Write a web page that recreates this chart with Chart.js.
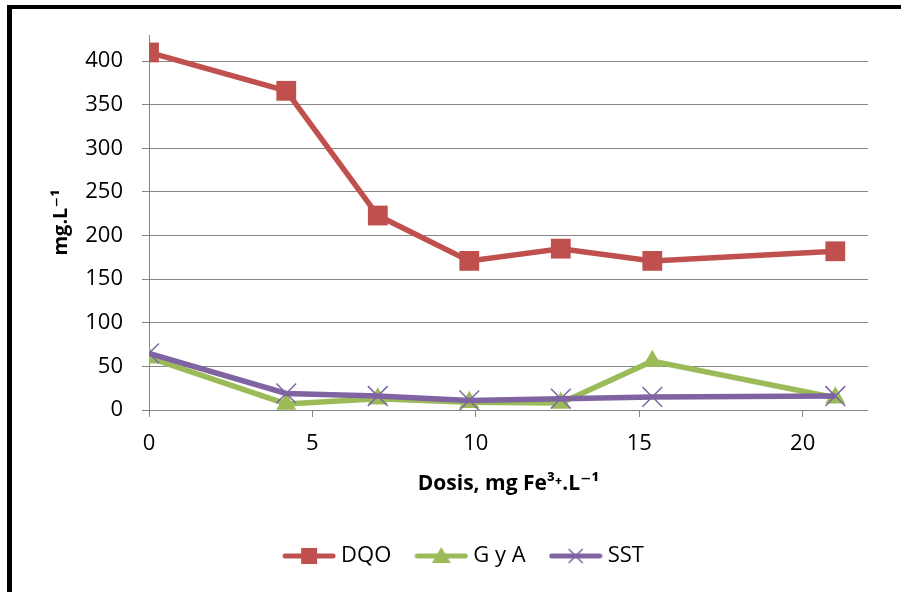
<!DOCTYPE html>
<html><head><meta charset="utf-8">
<script src="https://cdn.jsdelivr.net/npm/chart.js@4"></script>
<style>
html,body{margin:0;padding:0;background:#fff;width:901px;height:592px;overflow:hidden;position:relative}
#frame{position:absolute;left:7px;top:5px;width:1000px;height:1000px;border-top:4px solid #000;border-left:5px solid #000;box-sizing:border-box}
#c{position:absolute;left:0;top:0}
</style></head><body>
<div id="frame"></div>
<canvas id="c" width="901" height="592"></canvas>
<script>
// Data
const doses = [0, 4.2, 7.0, 9.8, 12.6, 15.4, 21.0];
const dqo = [410, 366, 223, 171, 185, 171, 182];
const gya = [60, 7, 13, 9, 8, 56, 14];
const sst = [65, 19, 16, 11, 13, 15, 16];
const seriesNames = ['DQO', 'G y A', 'SST'];
const yTitle = 'mg.L\u207B\u00B9';
const xTitle = 'Dosis, mg Fe\u00B3\u207A.L\u207B\u00B9';

const RED = '#C0504D', GREEN = '#9BBB59', PURPLE = '#8064A2';
const FONT = "'Open Sans', 'DejaVu Sans', sans-serif";

function pts(ys) { return doses.map((x, i) => ({x: x, y: ys[i]})); }

function legendSample(color, kind) {
  const c = document.createElement('canvas');
  c.width = 54; c.height = 24;
  const g = c.getContext('2d');
  g.strokeStyle = color; g.lineWidth = 5; g.lineCap = 'round';
  g.beginPath(); g.moveTo(3, 12); g.lineTo(51, 12); g.stroke();
  g.fillStyle = color;
  if (kind === 'rect') {
    g.fillRect(19, 4, 16, 16);
  } else if (kind === 'triangle') {
    g.beginPath(); g.moveTo(27, 3); g.lineTo(36.5, 19); g.lineTo(17.5, 19); g.closePath(); g.fill();
  } else {
    g.lineWidth = 1.5; g.lineCap = 'butt';
    g.beginPath(); g.moveTo(20, 5); g.lineTo(34, 19); g.moveTo(34, 5); g.lineTo(20, 19); g.stroke();
  }
  return c;
}
const samples = [legendSample(RED, 'rect'), legendSample(GREEN, 'triangle'), legendSample(PURPLE, 'cross')];

const shiftLegend = {
  id: 'shiftLegend',
  afterLayout(chart) { chart.legend.left += 8; chart.legend.right += 8; }
};

new Chart(document.getElementById('c'), {
  type: 'line',
  data: {
    datasets: [
      {label: seriesNames[0], data: pts(dqo), borderColor: RED, backgroundColor: RED, borderWidth: 5.5,
       pointStyle: 'rect', pointRadius: 14, pointBackgroundColor: RED, pointBorderColor: RED, pointBorderWidth: 0, order: 3},
      {label: seriesNames[1], data: pts(gya), borderColor: GREEN, backgroundColor: GREEN, borderWidth: 5.5,
       pointStyle: 'triangle', pointRadius: 11.5, pointBackgroundColor: GREEN, pointBorderColor: GREEN, pointBorderWidth: 0, order: 2},
      {label: seriesNames[2], data: pts(sst), borderColor: PURPLE, backgroundColor: PURPLE, borderWidth: 5.5,
       pointStyle: 'crossRot', pointRadius: 14, pointBackgroundColor: PURPLE, pointBorderColor: PURPLE, pointBorderWidth: 1.5, order: 1}
    ]
  },
  options: {
    responsive: false,
    devicePixelRatio: 1,
    animation: false,
    events: [],
    layout: {padding: {left: 48, top: 35, right: 33, bottom: 15}},
    plugins: {
      tooltip: {enabled: false},
      legend: {
        position: 'bottom',
        labels: {
          usePointStyle: true,
          pointStyleWidth: 42,
          padding: 29,
          color: '#000',
          font: {family: FONT, size: 22},
          generateLabels: (chart) => chart.data.datasets.map((ds, i) => ({
            text: ds.label, pointStyle: samples[i], fillStyle: ds.borderColor,
            strokeStyle: ds.borderColor, lineWidth: 0, hidden: false, datasetIndex: i
          }))
        }
      }
    },
    scales: {
      x: {
        type: 'linear', min: 0, max: 22,
        ticks: {stepSize: 5, includeBounds: false, color: '#000', font: {family: FONT, size: 22}, padding: 14, maxRotation: 0},
        grid: {drawOnChartArea: false, drawTicks: true, tickLength: 7, color: '#868686', lineWidth: 1},
        border: {display: false},
        title: {display: true, text: xTitle, color: '#000', font: {family: FONT, size: 21, weight: 'bold'}, padding: {top: 0, bottom: 19}},
        afterFit(s) { s.height = 106; }
      },
      y: {
        min: 0, max: 430,
        ticks: {stepSize: 50, includeBounds: false, color: '#000', font: {family: FONT, size: 22}, padding: 19},
        grid: {color: '#868686', lineWidth: 1, tickLength: 7},
        border: {color: '#868686', width: 1},
        title: {display: true, text: yTitle, color: '#000', font: {family: FONT, size: 20, weight: 'bold'}, padding: {top: 1, bottom: 0}},
        afterFit(s) { s.width = 101; }
      }
    }
  },
  plugins: [shiftLegend]
});
</script>
</body></html>
